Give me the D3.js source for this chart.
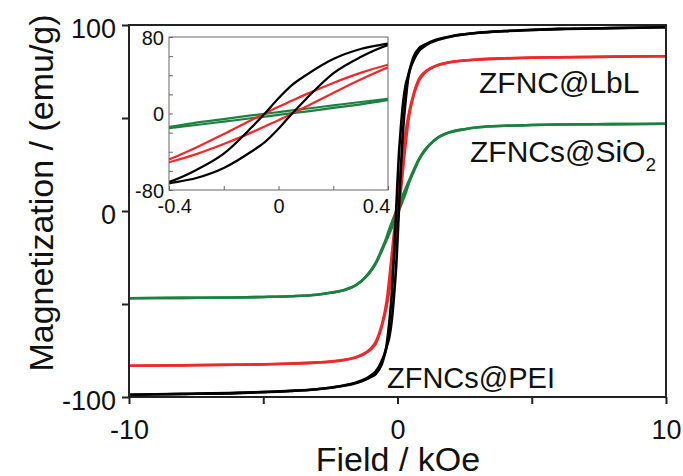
<!DOCTYPE html>
<html>
<head>
<meta charset="utf-8">
<script src="https://cdn.jsdelivr.net/npm/d3@7"></script>
<style>
  body { margin: 0; background: #fff; }
  text { font-family: "Liberation Sans", Arial, sans-serif; fill: #111; }
</style>
</head>
<body>
<svg id="chart" width="683" height="476"></svg>
<script>
// Field grid (kOe) for the increasing-field branch of each loop
const fields = [-10, -8, -6, -5, -4, -3, -2.5, -2, -1.5, -1.2, -1, -0.8, -0.6, -0.4, -0.3,
  -0.2, -0.1, -0.05, 0, 0.05, 0.1, 0.2, 0.3, 0.4, 0.6, 0.8, 1, 1.2, 1.5, 2, 2.5, 3, 4, 5, 6, 8, 10];

// Magnetization (emu/g), increasing-field branch
const pei = [-98.8, -98.3, -97.8, -97.3, -96.7, -95.8, -95, -94, -92.3, -90.8, -89.3, -87.5, -83,
  -73, -67.5, -57, -40, -30, -16, 0, 15, 42, 59, 71.5, 81, 86, 88.5, 90.3, 92, 93.8, 95, 95.8,
  96.8, 97.4, 97.9, 98.4, 98.8];
const lbl = [-83.2, -83, -82.7, -82.5, -82.1, -81.5, -81, -80.2, -78.5, -76.5, -74.5, -71, -63,
  -51, -42.5, -32, -20, -13.5, -7, 0, 7, 21.5, 35.5, 48, 62, 70, 74, 76.3, 78.3, 80, 80.9, 81.4,
  82, 82.4, 82.6, 82.9, 83.2];
const sio2 = [-46.9, -46.7, -46.5, -46.2, -45.8, -45, -44, -42.6, -39.5, -35.8, -32.5, -28,
  -22, -15.3, -12, -8.5, -5, -3.3, -1.5, 0.3, 2, 5.8, 9.5, 14, 21, 27.5, 32, 35.5, 39.3, 42.5,
  44, 45, 45.8, 46.2, 46.5, 46.7, 46.9];

const samples = [
  { name: 'ZFNCs@SiO2', values: sio2, color: '#1c8040' },
  { name: 'ZFNC@LbL', values: lbl, color: '#ec2a2c' },
  { name: 'ZFNCs@PEI', values: pei, color: '#000000' }
];

const mainXTicks = [-10, -5, 0, 5, 10];
const mainYTicks = [-100, -50, 0, 50, 100];
const mainXLabels = [-10, 0, 10];
const mainYLabels = [-100, 0, 100];
const insetXTicks = [-0.4, -0.2, 0, 0.2, 0.4];
const insetYTicks = [-80, -60, -40, -20, 0, 20, 40, 60, 80];
const insetXLabels = [-0.4, 0, 0.4];
const insetYLabels = [-80, 0, 80];

const svg = d3.select('#chart');

// Build both branches of a loop: the decreasing-field branch is the
// point-symmetric image of the increasing one
const branches = s => {
  const up = fields.map((h, i) => [h, s.values[i]]);
  const down = fields.map((h, i) => [-h, -s.values[i]]).reverse();
  return [up, down];
};

// Main plot
const x = d3.scaleLinear().domain([-10, 10]).range([129, 666]);
const y = d3.scaleLinear().domain([-100, 100]).range([397, 25]);

const line = d3.line()
  .x(d => x(d[0]))
  .y(d => y(d[1]))
  .curve(d3.curveMonotoneX);

const curves = svg.append('g');
samples.forEach(s => {
  branches(s).forEach(b => {
    curves.append('path')
      .attr('d', line(b))
      .attr('fill', 'none')
      .attr('stroke', s.color)
      .attr('stroke-width', 2.6);
  });
});

// Frame
svg.append('rect')
  .attr('x', x(-10)).attr('y', y(100))
  .attr('width', x(10) - x(-10)).attr('height', y(-100) - y(100))
  .attr('fill', 'none').attr('stroke', '#222').attr('stroke-width', 2);

const xAxis = svg.append('g')
  .attr('transform', `translate(0,${y(-100)})`)
  .call(d3.axisBottom(x).tickValues(mainXTicks).tickSize(7)
    .tickFormat(d => mainXLabels.includes(d) ? String(d) : ''));
xAxis.select('.domain').remove();
xAxis.selectAll('.tick line').attr('stroke', '#222').attr('stroke-width', 2);
xAxis.selectAll('.tick text')
  .attr('y', 42).attr('dy', 0)
  .style('font-size', '27px');

const yAxis = svg.append('g')
  .attr('transform', `translate(${x(-10)},0)`)
  .call(d3.axisLeft(y).tickValues(mainYTicks).tickSize(7)
    .tickFormat(d => mainYLabels.includes(d) ? String(d) : ''));
yAxis.select('.domain').remove();
yAxis.selectAll('.tick line').attr('stroke', '#222').attr('stroke-width', 2);
yAxis.selectAll('.tick text')
  .attr('x', -13).attr('dy', '0.45em')
  .style('font-size', '27px');

svg.append('text')
  .attr('x', 398).attr('y', 471)
  .attr('text-anchor', 'middle')
  .style('font-size', '34px')
  .text('Field / kOe');

svg.append('text')
  .attr('transform', 'translate(53,193) rotate(-90)')
  .attr('text-anchor', 'middle')
  .style('font-size', '34px')
  .text('Magnetization / (emu/g)');

// Sample labels
svg.append('text')
  .attr('x', 479).attr('y', 93)
  .style('font-size', '30px')
  .text('ZFNC@LbL');
const sioLabel = svg.append('text')
  .attr('x', 470).attr('y', 162)
  .style('font-size', '30px');
sioLabel.append('tspan').text('ZFNCs@SiO');
sioLabel.append('tspan').attr('dy', 9).style('font-size', '19px').text('2');
svg.append('text')
  .attr('x', 387).attr('y', 388)
  .style('font-size', '29px')
  .text('ZFNCs@PEI');

// Inset
const ix = d3.scaleLinear().domain([-0.4, 0.4]).range([169, 388]);
const iy = d3.scaleLinear().domain([-80, 80]).range([190, 37]);

const inset = svg.append('g');
inset.append('rect')
  .attr('x', 169).attr('y', 37)
  .attr('width', 219).attr('height', 153)
  .attr('fill', '#fff');

svg.append('clipPath').attr('id', 'insetClip')
  .append('rect')
  .attr('x', 169).attr('y', 37)
  .attr('width', 219).attr('height', 153);

const insetLine = d3.line()
  .x(d => ix(d[0]))
  .y(d => iy(d[1]))
  .curve(d3.curveMonotoneX);

const insetCurves = inset.append('g').attr('clip-path', 'url(#insetClip)');
samples.forEach(s => {
  branches(s).forEach(b => {
    insetCurves.append('path')
      .attr('d', insetLine(b.filter(d => Math.abs(d[0]) <= 0.6)))
      .attr('fill', 'none')
      .attr('stroke', s.color)
      .attr('stroke-width', 2.2);
  });
});

inset.append('rect')
  .attr('x', 169).attr('y', 37)
  .attr('width', 219).attr('height', 153)
  .attr('fill', 'none').attr('stroke', '#666').attr('stroke-width', 1);

const ixAxis = inset.append('g')
  .attr('transform', 'translate(0,190)')
  .call(d3.axisBottom(ix).tickValues(insetXTicks).tickSize(-4)
    .tickFormat(d => insetXLabels.includes(d) ? String(d) : ''));
ixAxis.select('.domain').remove();
ixAxis.selectAll('.tick line').attr('stroke', '#666');
ixAxis.selectAll('.tick text')
  .attr('y', 23).attr('dy', 0)
  .style('font-size', '20px')
  .attr('text-anchor', d => d < 0 ? 'start' : d > 0 ? 'end' : 'middle')
  .attr('x', d => d < 0 ? -12 : d > 0 ? 2 : 0);

const iyAxis = inset.append('g')
  .attr('transform', 'translate(169,0)')
  .call(d3.axisLeft(iy).tickValues(insetYTicks).tickSize(-4)
    .tickFormat(d => insetYLabels.includes(d) ? String(d) : ''));
iyAxis.select('.domain').remove();
iyAxis.selectAll('.tick line').attr('stroke', '#666');
iyAxis.selectAll('.tick text')
  .attr('x', -5).attr('dy', '0.36em')
  .style('font-size', '20px');
</script>
</body>
</html>
